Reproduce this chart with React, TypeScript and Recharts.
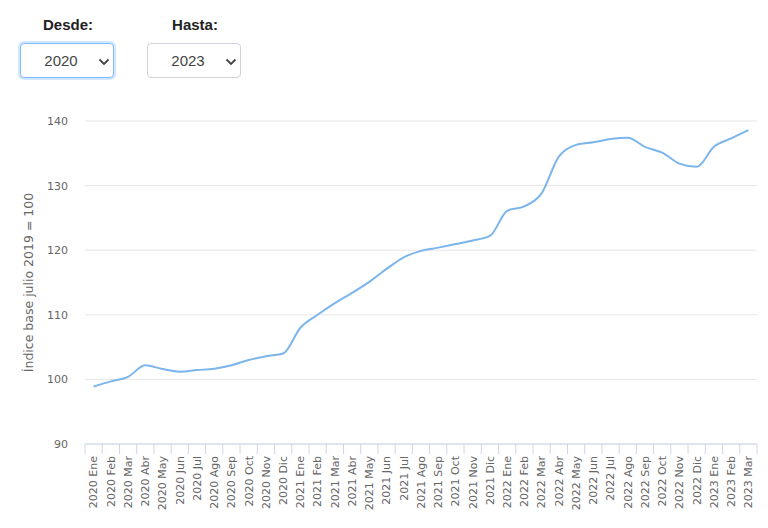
import React from "react"
import { LineChart, Line, XAxis, YAxis, CartesianGrid } from "recharts"

const months = [
  "2020 Ene", "2020 Feb", "2020 Mar", "2020 Abr", "2020 May", "2020 Jun",
  "2020 Jul", "2020 Ago", "2020 Sep", "2020 Oct", "2020 Nov", "2020 Dic",
  "2021 Ene", "2021 Feb", "2021 Mar", "2021 Abr", "2021 May", "2021 Jun",
  "2021 Jul", "2021 Ago", "2021 Sep", "2021 Oct", "2021 Nov", "2021 Dic",
  "2022 Ene", "2022 Feb", "2022 Mar", "2022 Abr", "2022 May", "2022 Jun",
  "2022 Jul", "2022 Ago", "2022 Sep", "2022 Oct", "2022 Nov", "2022 Dic",
  "2023 Ene", "2023 Feb", "2023 Mar",
]

const indexValues = [
  98.9, 99.7, 100.4, 102.2, 101.6, 101.2, 101.45, 101.65, 102.2, 103.0, 103.6, 104.0,
  108.0, 110.0, 111.8, 113.4, 115.1, 117.1, 118.9, 119.9, 120.4, 120.95, 121.5, 122.2,
  126.1, 126.8, 128.8, 134.5, 136.3, 136.7, 137.2, 137.4, 136.0, 135.1, 133.4, 132.9,
  136.0, 137.3, 138.6,
]

const yTicks = [90, 100, 110, 120, 130, 140]

const fromYear = "2020"
const toYear = "2023"

const data = months.map((m, i) => ({ month: m, value: indexValues[i] }))

const CHART_W = 768
const CHART_H = 438
const Y_AXIS_W = 85
const RIGHT = 11
const PLOT_W = CHART_W - Y_AXIS_W - RIGHT
const BAND = PLOT_W / months.length
const AXIS_COLOR = "#ccd6eb"
const FONT = "'DejaVu Sans', Verdana, sans-serif"

function MonthTick({ x, y, payload }: any) {
  const isLast = payload.value === months[months.length - 1]
  return (
    <g>
      <line x1={x - BAND / 2} y1={y - 12} x2={x - BAND / 2} y2={y - 2} stroke={AXIS_COLOR} />
      {isLast && <line x1={x + BAND / 2} y1={y - 12} x2={x + BAND / 2} y2={y - 2} stroke={AXIS_COLOR} />}
      <text
        x={x}
        y={y}
        transform={`rotate(-90, ${x}, ${y})`}
        textAnchor="end"
        dy="0.35em"
        fill="#666"
        fontSize={11}
        fontFamily={FONT}
      >
        {payload.value}
      </text>
    </g>
  )
}

function Chevron({ left }: { left: number }) {
  return (
    <svg width={12} height={8} style={{ position: "absolute", left, top: 14 }}>
      <polyline points="1.5,1.5 6,6 10.5,1.5" fill="none" stroke="#444" strokeWidth={1.8} />
    </svg>
  )
}

function FakeSelect({ left, value, focused }: { left: number; value: string; focused?: boolean }) {
  return (
    <div
      style={{
        position: "absolute",
        left,
        top: 43,
        width: 94,
        height: 35,
        boxSizing: "border-box",
        border: focused ? "1px solid #80bdff" : "1px solid #ced4da",
        borderRadius: 4,
        boxShadow: focused ? "0 0 0 2px rgba(0,123,255,0.18)" : "none",
        background: "#fff",
      }}
    >
      <div
        style={{
          position: "absolute",
          left: 0,
          width: 80,
          top: 0,
          lineHeight: "33px",
          textAlign: "center",
          fontSize: 15,
          color: "#444",
          fontFamily: "'Liberation Sans', Arial, sans-serif",
        }}
      >
        {value}
      </div>
      <Chevron left={77} />
    </div>
  )
}

export default function App() {
  return (
    <div style={{ position: "absolute", left: 0, top: 0, width: 768, height: 528, background: "#fff", overflow: "hidden" }}>
      <div
        style={{
          position: "absolute",
          left: 20,
          width: 96,
          top: 16,
          textAlign: "center",
          fontWeight: "bold",
          fontSize: 15,
          color: "#222",
          fontFamily: "'Liberation Sans', Arial, sans-serif",
        }}
      >
        Desde:
      </div>
      <div
        style={{
          position: "absolute",
          left: 147,
          width: 96,
          top: 16,
          textAlign: "center",
          fontWeight: "bold",
          fontSize: 15,
          color: "#222",
          fontFamily: "'Liberation Sans', Arial, sans-serif",
        }}
      >
        Hasta:
      </div>
      <FakeSelect left={20} value={fromYear} focused />
      <FakeSelect left={147} value={toYear} />

      <div style={{ position: "absolute", left: 0, top: 90 }}>
        <LineChart width={CHART_W} height={CHART_H} data={data} margin={{ top: 31, right: RIGHT, left: 0, bottom: 0 }}>
          <CartesianGrid vertical={false} stroke="#e6e6e6" />
          <XAxis
            dataKey="month"
            interval={0}
            height={84}
            padding={{ left: BAND / 2, right: BAND / 2 }}
            stroke={AXIS_COLOR}
            tickLine={false}
            tickSize={10}
            tickMargin={2}
            tick={<MonthTick />}
          />
          <YAxis
            width={Y_AXIS_W}
            domain={[90, 140]}
            ticks={yTicks}
            axisLine={false}
            tickLine={false}
            tickMargin={11}
            tick={{ fill: "#666", fontSize: 11, fontFamily: FONT }}
            label={{
              value: "Índice base julio 2019 = 100",
              angle: -90,
              position: "insideLeft",
              offset: 29,
              style: { textAnchor: "middle", fill: "#666", fontSize: 12.5, fontFamily: FONT },
            }}
          />
          <Line
            type="monotone"
            dataKey="value"
            stroke="#7cb5ec"
            strokeWidth={2}
            dot={false}
            isAnimationActive={false}
          />
        </LineChart>
      </div>
    </div>
  )
}
